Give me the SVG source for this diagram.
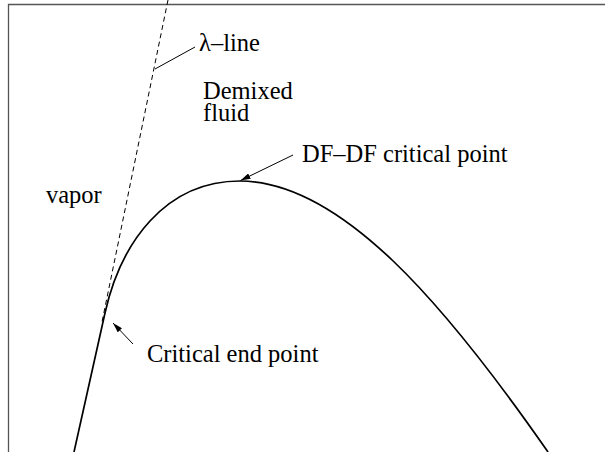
<svg xmlns="http://www.w3.org/2000/svg" width="605" height="452" viewBox="0 0 605 452">
<style>
text{font-family:'Liberation Serif','Times New Roman',serif;font-size:24.5px;fill:#000}
.frame{stroke:#555;stroke-width:1.3;fill:none}
.curve{stroke:#000;stroke-width:1.7;fill:none}
.dash{stroke:#000;stroke-width:1;fill:none;stroke-dasharray:5 3.5}
.lead{stroke:#000;stroke-width:1;fill:none}
</style>
<defs>
<marker id="ah" viewBox="0 0 10 6" refX="10" refY="3" markerWidth="10" markerHeight="6" markerUnits="userSpaceOnUse" orient="auto">
<path d="M0,0 L10,3 L0,6 Z" fill="#000"/>
</marker>
</defs>
<rect width="605" height="452" fill="#fff"/>
<path class="frame" d="M8.5,452 V4.5 H605"/>
<g id="curves">
<path class="dash" d="M168,0 L102,322"/>
<path class="curve" d="M74,452 L105,313 C120.6,243 165,181 240,181 C340,181 443.6,302 548,452"/>
</g>
<g id="connectors">
<path class="lead" d="M195,47 L155,69"/>
<path class="lead" d="M293,155 L240.5,180.5" marker-end="url(#ah)"/>
<path class="lead" d="M133,344 L113,323" marker-end="url(#ah)"/>
</g>
<g id="lambda-line"><text x="199" y="51">λ–line</text></g>
<g id="demixed-fluid"><text x="203" y="99">Demixed</text><text x="203" y="121">fluid</text></g>
<g id="vapor"><text x="46" y="203">vapor</text></g>
<g id="df-critical"><text x="302" y="162">DF–DF critical point</text></g>
<g id="critical-end"><text x="147" y="362">Critical end point</text></g>
</svg>
